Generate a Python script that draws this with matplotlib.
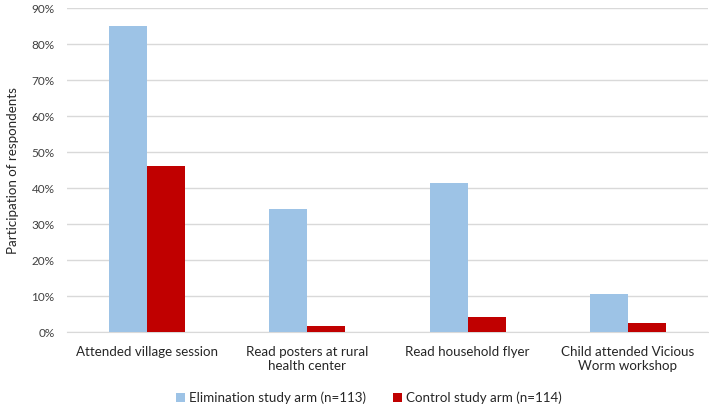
import matplotlib.pyplot as plt
import numpy as np

categories = ["Attended village session", "Read posters at rural\nhealth center",
              "Read household flyer", "Child attended Vicious\nWorm workshop"]
elimination = [85.0, 34.2, 41.4, 10.5]
control = [46.1, 1.8, 4.3, 2.6]
series_names = ["Elimination study arm (n=113)", "Control study arm (n=114)"]

plt.rcParams['font.family'] = ['Lato', 'DejaVu Sans']

fig = plt.figure(figsize=(7.09, 4.08), dpi=100)
ax = fig.add_axes([0.0945, 0.186, 0.904, 0.794])

x = np.arange(len(categories))
w = 0.237
ax.bar(x - w / 2, elimination, w, color="#9dc3e6", label=series_names[0], zorder=3)
ax.bar(x + w / 2, control, w, color="#c00000", label=series_names[1], zorder=3)

ax.set_xlim(-0.5, len(categories) - 0.5)
ax.set_ylim(0, 90)
ax.set_yticks(range(0, 91, 10))
ax.set_yticklabels([f"{v}%" for v in range(0, 91, 10)], fontsize=8.5, color="#404040")
ax.set_xticks(x)
ax.set_xticklabels(categories, fontsize=9.6, color="#262626", linespacing=1.2)
ax.tick_params(length=0)
ax.tick_params(axis='y', pad=9)
ax.tick_params(axis='x', pad=10)
ax.grid(axis='y', color="#d9d9d9", linewidth=1, zorder=0)
for s in ["top", "right", "left"]:
    ax.spines[s].set_visible(False)
ax.spines["bottom"].set_color("#d9d9d9")

ax.set_ylabel("Participation of respondents", fontsize=9.6, color="#262626")
ax.yaxis.set_label_coords(-0.075, 0.5)

fig.legend(loc="lower center", bbox_to_anchor=(0.52, -0.02), ncol=2, frameon=False,
           fontsize=9.6, handlelength=0.7, handleheight=0.7, handletextpad=0.3,
           columnspacing=2.0, labelcolor="#262626")

fig.savefig("out.png", dpi=100)
